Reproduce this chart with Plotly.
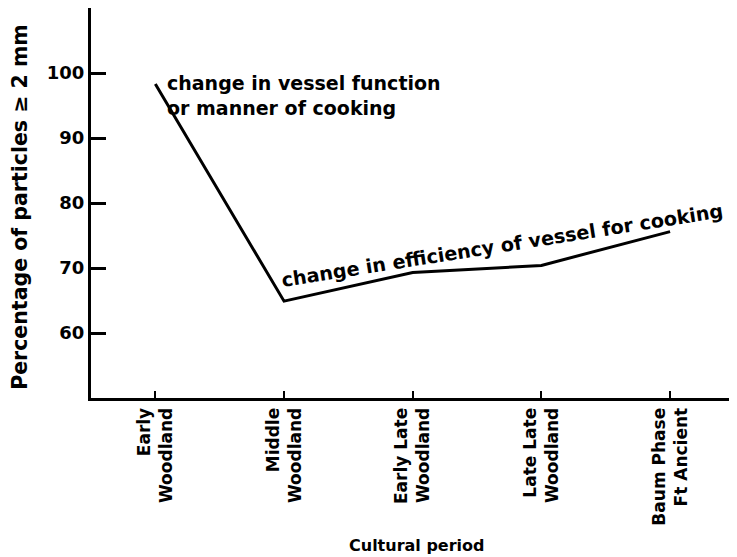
import plotly.graph_objects as go

categories = ["Early<br>Woodland", "Middle<br>Woodland", "Early Late<br>Woodland",
              "Late Late<br>Woodland", "Baum Phase<br>Ft Ancient"]
values = [98.3, 64.9, 69.3, 70.4, 75.6]
y_ticks = [60, 70, 80, 90, 100]

FONT = "DejaVu Sans"
x_idx = list(range(len(categories)))

fig = go.Figure()
fig.add_trace(go.Scatter(x=x_idx, y=values, mode="lines",
                         line=dict(color="black", width=3), showlegend=False))

fig.update_layout(
    width=737, height=557,
    margin=dict(l=83, r=8, t=0, b=167),
    paper_bgcolor="white", plot_bgcolor="white",
    font=dict(family=FONT, color="black"),
    xaxis=dict(range=[-0.5, 4.52], tickmode="array", tickvals=x_idx, ticktext=categories,
               tickangle=-90, ticks="inside", ticklen=7, tickwidth=2, tickcolor="black",
               showline=True, linecolor="black", linewidth=3, showgrid=False, zeroline=False,
               automargin=False,
               tickfont=dict(family=FONT, size=17, color="black", weight="bold")),
    yaxis=dict(range=[50, 110], tickmode="array", tickvals=y_ticks,
               ticks="inside", ticklen=15, tickwidth=3, tickcolor="black",
               showline=True, linecolor="black", linewidth=3, showgrid=False, zeroline=False,
               automargin=False,
               tickfont=dict(family=FONT, size=18, color="black", weight="bold")),
    annotations=[
        dict(text="Cultural period", xref="paper", yref="paper", x=0.505, y=-0.377,
             xanchor="center", yanchor="middle", showarrow=False,
             font=dict(family=FONT, size=16, weight="bold")),
        dict(text="Percentage of particles ≥ 2 mm", xref="paper", yref="paper",
             x=-0.11, y=0.49, xanchor="center", yanchor="middle", textangle=-90,
             showarrow=False, font=dict(family=FONT, size=20.5, weight="bold")),
        dict(text="change in vessel function<br>or manner of cooking", xref="x", yref="y",
             x=0.078, y=96.6, xanchor="left", yanchor="middle", align="left",
             showarrow=False, font=dict(family=FONT, size=19, weight="bold")),
        dict(text="change in efficiency of vessel for cooking", xref="x", yref="y",
             x=2.70, y=73.5, xanchor="center", yanchor="middle", textangle=-9,
             showarrow=False, font=dict(family=FONT, size=19.2, weight="bold")),
    ],
)

fig.write_html("out.html")
